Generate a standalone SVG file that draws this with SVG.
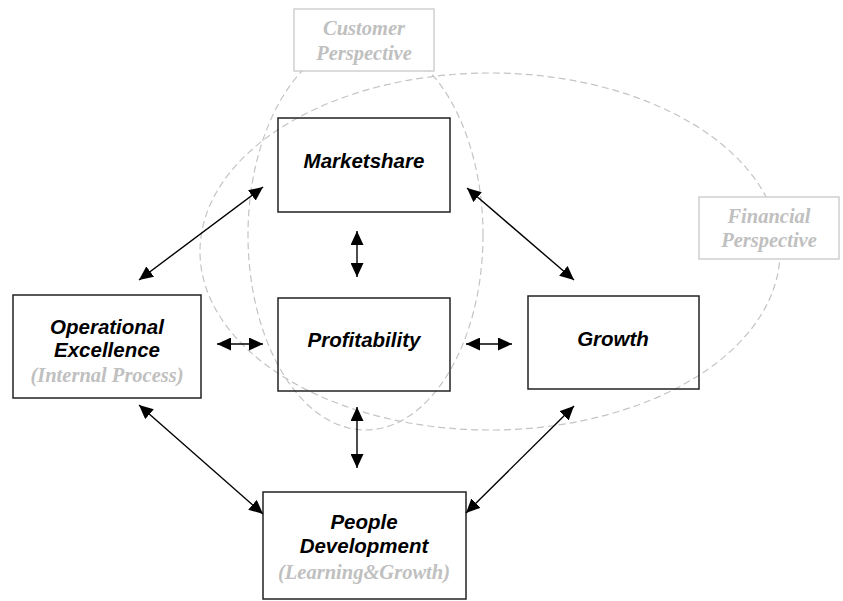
<svg xmlns="http://www.w3.org/2000/svg" width="843" height="601" viewBox="0 0 843 601">
<defs>
<style>
.box{fill:none;stroke:#222;stroke-width:1.5}
.pbox{fill:#fff;stroke:#c8c8c8;stroke-width:1.3}
.ell{fill:none;stroke:#c4c4c4;stroke-width:1.2;stroke-dasharray:7 4}
.lbl{font-family:"Liberation Sans",Arial,sans-serif;font-weight:bold;font-style:italic;font-size:20.5px;fill:#000;text-anchor:middle}
.sub{font-family:"Liberation Serif","Times New Roman",serif;font-weight:bold;font-style:italic;font-size:20.5px;fill:#c0c0c0;text-anchor:middle}
.con{stroke:#000;stroke-width:1.4;fill:none;marker-start:url(#ah);marker-end:url(#ah)}
</style>
<marker id="ah" viewBox="0 0 14 13" refX="14" refY="6.5" markerWidth="14" markerHeight="13" markerUnits="userSpaceOnUse" orient="auto-start-reverse">
<path d="M0,0 L14,6.5 L0,13 Z" fill="#000"/>
</marker>
</defs>
<g id="perspectives">
<ellipse class="ell" cx="365.5" cy="235" rx="117.5" ry="195"/>
<ellipse class="ell" cx="490" cy="251.5" rx="290" ry="178.5"/>
</g>
<g id="marketshare">
<rect class="box" x="278" y="118" width="172" height="94"/>
<text class="lbl" x="364" y="168">Marketshare</text>
</g>
<g id="profitability">
<rect class="box" x="278" y="298" width="172" height="93"/>
<text class="lbl" x="364" y="347">Profitability</text>
</g>
<g id="operational">
<rect class="box" x="13" y="295" width="188" height="103"/>
<text class="lbl" x="107" y="334">Operational</text>
<text class="lbl" x="107" y="357">Excellence</text>
<text class="sub" x="107" y="382">(Internal Process)</text>
</g>
<g id="growth">
<rect class="box" x="528" y="296" width="171" height="93"/>
<text class="lbl" x="613" y="346">Growth</text>
</g>
<g id="people">
<rect class="box" x="263" y="492" width="203" height="107"/>
<text class="lbl" x="364" y="529">People</text>
<text class="lbl" x="364" y="553">Development</text>
<text class="sub" x="364" y="579">(Learning&amp;Growth)</text>
</g>
<g id="customer">
<rect class="pbox" x="294" y="9" width="140" height="62"/>
<text class="sub" x="364" y="35">Customer</text>
<text class="sub" x="364" y="60">Perspective</text>
</g>
<g id="financial">
<rect class="pbox" x="699" y="197" width="140" height="62"/>
<text class="sub" x="769" y="223">Financial</text>
<text class="sub" x="769" y="247">Perspective</text>
</g>
<g id="connectors">
<line class="con" x1="263" y1="187" x2="139" y2="280"/>
<line class="con" x1="467" y1="188" x2="574" y2="280"/>
<line class="con" x1="357" y1="231" x2="357" y2="277"/>
<line class="con" x1="217" y1="344" x2="263" y2="344"/>
<line class="con" x1="466" y1="344" x2="512" y2="344"/>
<line class="con" x1="357" y1="407" x2="357" y2="468"/>
<line class="con" x1="139" y1="405" x2="263" y2="514"/>
<line class="con" x1="574" y1="406" x2="466" y2="513"/>
</g>
</svg>
